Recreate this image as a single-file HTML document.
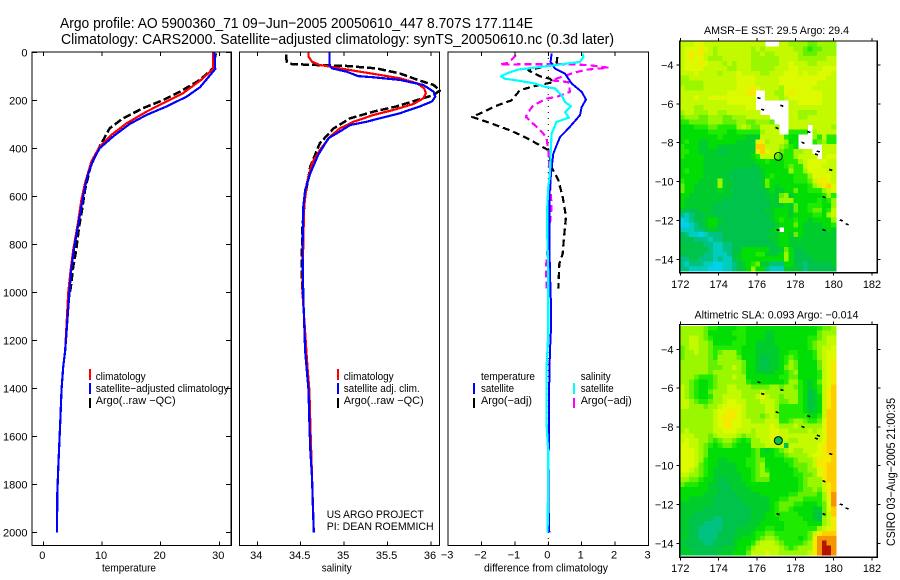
<!DOCTYPE html>
<html><head><meta charset="utf-8"><title>Argo profile</title>
<style>
html,body{margin:0;padding:0;background:#fff;width:900px;height:580px;overflow:hidden}
svg{display:block}
text{font-family:"Liberation Sans",sans-serif;font-size:11px;fill:#000}
.t{font-size:14.6px}
.crisp{shape-rendering:crispEdges}
</style></head><body>
<svg id="chart" xmlns="http://www.w3.org/2000/svg" width="900" height="580" viewBox="0 0 900 580">
<rect x="0" y="0" width="900" height="580" fill="#fff"/>
<text class="t" x="60" y="28" textLength="473" lengthAdjust="spacingAndGlyphs">Argo profile: AO 5900360_71 09−Jun−2005 20050610_447 8.707S 177.114E</text>
<text class="t" x="61" y="44" textLength="553" lengthAdjust="spacingAndGlyphs">Climatology: CARS2000. Satellite−adjusted climatology: synTS_20050610.nc (0.3d later)</text>
<text x="129" y="571.5" text-anchor="middle" textLength="54" lengthAdjust="spacingAndGlyphs">temperature</text>
<text x="336.7" y="571.5" text-anchor="middle" textLength="30" lengthAdjust="spacingAndGlyphs">salinity</text>
<text x="546" y="571.5" text-anchor="middle" textLength="124" lengthAdjust="spacingAndGlyphs">difference from climatology</text>
<g id="legends">
<text x="95.7" y="380" textLength="50" lengthAdjust="spacingAndGlyphs">climatology</text>
<text x="95.7" y="392" textLength="133" lengthAdjust="spacingAndGlyphs">satellite−adjusted climatology</text>
<text x="95.7" y="404" textLength="80" lengthAdjust="spacingAndGlyphs">Argo(..raw −QC)</text>
<text x="343.7" y="380" textLength="50" lengthAdjust="spacingAndGlyphs">climatology</text>
<text x="343.7" y="392" textLength="76" lengthAdjust="spacingAndGlyphs">satellite adj. clim.</text>
<text x="343.7" y="404" textLength="80" lengthAdjust="spacingAndGlyphs">Argo(..raw −QC)</text>
<text x="326.7" y="518" textLength="97" lengthAdjust="spacingAndGlyphs">US ARGO PROJECT</text>
<text x="326.7" y="530" textLength="107" lengthAdjust="spacingAndGlyphs">PI: DEAN ROEMMICH</text>
<text x="481" y="380" textLength="54" lengthAdjust="spacingAndGlyphs">temperature</text>
<text x="481" y="392" textLength="33" lengthAdjust="spacingAndGlyphs">satellite</text>
<text x="481" y="404" textLength="51" lengthAdjust="spacingAndGlyphs">Argo(−adj)</text>
<text x="580.7" y="380" textLength="30" lengthAdjust="spacingAndGlyphs">salinity</text>
<text x="580.7" y="392" textLength="33" lengthAdjust="spacingAndGlyphs">satellite</text>
<text x="580.7" y="404" textLength="51" lengthAdjust="spacingAndGlyphs">Argo(−adj)</text>
<rect class="crisp" x="89" y="369" width="2" height="11" fill="#f00"/>
<rect class="crisp" x="89" y="383" width="2" height="11" fill="#00f"/>
<rect class="crisp" x="89" y="398" width="2" height="10" fill="#000"/>
<rect class="crisp" x="337" y="369" width="2" height="11" fill="#f00"/>
<rect class="crisp" x="337" y="383" width="2" height="11" fill="#00f"/>
<rect class="crisp" x="337" y="398" width="2" height="10" fill="#000"/>
<rect class="crisp" x="473" y="383" width="2" height="11" fill="#00f"/>
<rect class="crisp" x="473" y="398" width="2" height="10" fill="#000"/>
<rect class="crisp" x="573" y="383" width="2" height="11" fill="#0ff"/>
<rect class="crisp" x="573" y="398" width="2" height="10" fill="#f0f"/>
</g>
<text x="776.5" y="34" text-anchor="middle" textLength="145" lengthAdjust="spacingAndGlyphs">AMSR−E SST: 29.5 Argo: 29.4</text>
<text x="776.5" y="318.5" text-anchor="middle" textLength="164" lengthAdjust="spacingAndGlyphs">Altimetric SLA: 0.093 Argo: −0.014</text>
<text transform="translate(895,546) rotate(-90)" textLength="148" lengthAdjust="spacingAndGlyphs" style="font-size:12px">CSIRO 03−Aug−2005 21:00:35</text>
</svg>
<script>
const tempTicks = [0, 10, 20, 30];
const salTicks = [34, 34.5, 35, 35.5, 36];
const salTickLabels = ["34", "34.5", "35", "35.5", "36"];
const diffTicks = [-3, -2, -1, 0, 1, 2, 3];
const depthTicks = [0, 200, 400, 600, 800, 1000, 1200, 1400, 1600, 1800, 2000];
const lonTicks = [172, 174, 176, 178, 180, 182];
const latTicks = [-4, -6, -8, -10, -12, -14];

const tempClimDepth = [0,70,115,171,205,247,296,344,393,455,546,615,712,824,921,1004,1242,1311,1408,1506,1631,1728,1839,2000];
const tempClimValue = [28.9,28.9,26.9,23.8,21,17.6,14.2,11.6,9.6,8.2,7.1,6.5,5.9,5.1,4.6,4.25,3.74,3.4,3.1,2.95,2.72,2.55,2.38,2.33];
const tempSatDepth = [0,70,146,185,226,261,299,351,400,455,518,600,712,824,921,1018,1242,1311,1408,1506,1631,1728,1839,2000];
const tempSatValue = [29.2,29.3,26.7,24.4,21,17.6,14.7,11.9,9.6,8.4,7.5,6.8,6,5.2,4.7,4.4,3.74,3.4,3.1,2.95,2.72,2.55,2.38,2.33];
const tempArgoDepth = [5,67,115,164,199,233,275,317,393,476,574,657,726,824,893,976,1018];
const tempArgoValue = [29.4,28.9,26.7,23.3,20.4,17,13.6,11.3,9.6,8.05,7.1,6.6,6.1,5.6,5.1,4.7,4.4];

const salClimDepth = [0,18,39,53,60,74,90,108,129,150,171,192,215,240,261,289,317,351,407,462,546,643,782,1004,1325,1408,1547,2000];
const salClimValue = [34.59,34.59,34.63,34.72,34.84,35.07,35.34,35.64,35.84,35.92,35.94,35.91,35.8,35.57,35.34,35.11,34.95,34.84,34.72,34.63,34.57,34.54,34.53,34.52,34.58,34.6,34.61,34.65];
const salSatDepth = [0,53,67,81,99,104,115,136,164,185,205,226,254,275,289,303,330,358,428,504,574,643,824,1018,1242,1325,1408,1547,1658,1769,1894,2000];
const salSatValue = [34.83,34.83,34.86,35.03,35.16,35.34,35.64,35.91,36.03,36.05,36.01,35.87,35.64,35.41,35.26,35.07,34.95,34.82,34.7,34.61,34.55,34.53,34.52,34.53,34.55,34.57,34.59,34.6,34.61,34.63,34.64,34.65];
const salArgoDepth = [10,18,39,49,53,57,67,88,118,136,160,178,199,226,247,275,317,379,476,601,726,893,1004];
const salArgoValue = [34.33,34.33,34.34,34.4,34.68,35.03,35.37,35.64,35.87,36.03,36.1,36.03,35.84,35.6,35.34,35.07,34.88,34.72,34.61,34.55,34.52,34.51,34.52];

const diffTempSatDepth = [5,40,68,89,130,165,197,228,262,318,353,422,505,603,783,922,1054,1151,1241,1352,1547,1850,2000];
const diffTempSatValue = [0.1,0.07,0.2,0.5,0.7,1,1.13,1,0.95,0.6,0.35,0.15,0.08,0.03,0.03,0.05,0.08,0.08,0.05,0.03,0.02,0,0.03];
const diffSalSatDepth = [5,19,40,47,58,64,72,86,100,110,119,130,142,151,179,207,225,249,272,290,339,422,505,561,644,769,922,1061,1172,1311,1547,1672,2000];
const diffSalSatValue = [1.03,1.05,0.95,0.55,-0.05,-0.45,-0.9,-1.2,-1.42,-1.3,-0.85,-0.4,-0.15,0.2,0.4,0.5,0.68,0.5,0.62,0.25,0.1,0.07,0.05,0,-0.03,-0.03,0,0,0,-0.05,-0.05,0,-0.02];
const diffTempArgoDepth = [19,47,75,100,110,124,142,158,200,225,249,269,294,325,350,380,408,478,533,603,686,769,839,881,985];
const diffTempArgoValue = [0.27,0.25,-0.6,-0.25,0.05,0.15,-0.45,-0.85,-1.1,-1.6,-1.95,-2.28,-1.75,-1.15,-0.75,-0.35,0,0.1,0.3,0.43,0.53,0.47,0.43,0.33,0.3];
const diffSalArgoDepth = [12,44,51,50,50,50,54,64,72,86,100,117,124,165,186,193,221,249,269,304,339,360,408,533,644,783,894,992];
const diffSalArgoValue = [-0.97,-1.2,-1.45,-0.75,0.05,0.75,1.25,1.8,1.15,0.75,0.45,0.1,0.6,0.65,0.25,-0.05,-0.45,-0.6,-0.67,-0.4,-0.15,-0.05,0,0.05,0.1,0,-0.07,-0.05];

const islandLon = [176.1,176.3,177.3,177.05,178.7,178.4,179.2,179.1,179.85,179.5,180.4,180.7,177.1,179.5];
const islandLat = [-5.7,-6.3,-6.1,-7.25,-7.45,-8.0,-8.45,-8.6,-9.4,-10.8,-12.0,-12.2,-12.5,-12.5];
const floatLon = [177.114];
const floatLat = [-8.707];

const sstLevels = [
[9,9,9,10,10,9,9,9,9,9,9,9,9,9,9,9,9,9,-1,-1,-1,9,9,8,8,8,8,7,7,8,8,8,8],
[9,10,10,10,11,10,9,8,9,9,9,9,9,9,9,8,9,8,9,9,9,9,9,9,8,8,7,6,7,7,8,8,8],
[9,10,11,10,11,9,9,8,9,9,9,9,9,9,9,8,8,9,8,8,9,9,9,9,9,8,7,7,7,8,8,8,8],
[9,10,11,10,10,9,8,8,8,9,9,9,9,9,9,8,8,8,8,8,8,9,9,9,9,8,8,8,8,8,8,9,9],
[9,10,10,10,11,10,9,9,9,8,9,8,9,9,9,8,8,8,8,8,8,9,9,10,9,9,9,8,8,9,9,9,9],
[9,10,10,10,10,9,9,9,9,9,8,8,9,9,9,8,8,8,8,8,9,9,9,10,10,9,9,9,9,9,10,10,10],
[9,9,9,10,9,9,9,9,8,9,9,9,10,9,9,9,9,8,8,9,9,9,10,10,10,9,10,9,9,10,10,10,9],
[8,8,9,9,9,9,9,9,9,9,9,9,10,10,10,10,9,9,9,9,9,10,10,10,10,10,10,10,10,10,10,9,9],
[8,8,8,8,8,9,9,9,9,9,9,9,10,10,10,10,9,9,9,9,9,10,10,10,10,10,10,10,10,9,9,9,9],
[9,8,8,8,8,9,9,9,9,9,9,9,10,10,10,11,10,9,9,9,9,8,10,10,10,10,10,10,9,9,9,9,9],
[9,9,9,9,9,9,9,9,9,9,10,10,10,10,11,11,-1,-1,9,9,8,8,10,11,10,10,10,10,10,10,9,9,9],
[9,9,9,10,9,9,10,10,10,10,10,10,10,10,10,10,-1,-1,9,9,9,8,9,10,10,10,10,10,10,10,9,9,9],
[9,9,9,9,9,9,9,9,9,9,10,10,10,10,10,10,-1,-1,-1,-1,-1,-1,-1,9,9,10,10,10,10,10,9,9,9],
[9,9,9,8,8,9,9,9,9,9,9,9,9,9,10,10,-1,-1,-1,-1,-1,-1,-1,9,9,9,9,9,9,9,9,9,9],
[8,9,9,8,8,8,9,9,8,8,9,9,9,9,9,9,9,-1,-1,-1,-1,-1,-1,9,9,8,8,8,8,9,9,9,9],
[7,8,8,8,7,7,8,8,8,7,7,8,8,8,9,9,9,9,9,-1,-1,-1,-1,9,9,8,8,9,9,9,9,9,9],
[6,6,7,7,7,7,8,8,8,7,7,7,8,8,7,7,8,8,8,7,-1,-1,-1,9,9,9,9,9,9,9,9,9,9],
[5,5,5,6,6,6,7,7,6,6,6,6,8,9,8,7,7,9,9,9,8,-1,-1,9,9,9,9,-1,9,9,9,9,8],
[5,5,5,5,5,5,6,6,6,6,5,5,6,6,6,6,6,8,9,9,9,-1,-1,6,6,6,6,-1,8,9,9,9,9],
[5,5,5,5,5,5,5,5,6,5,5,5,5,5,4,4,4,9,9,9,9,9,6,5,5,-1,-1,-1,8,6,9,6,6],
[5,6,5,5,4,4,5,5,5,5,5,5,4,4,4,4,10,11,8,9,9,9,8,5,5,-1,-1,-1,6,7,8,6,6],
[6,5,5,5,4,4,5,5,4,4,4,4,4,4,4,4,12,12,9,9,9,8,7,6,5,-1,-1,-1,-1,-1,9,9,9],
[6,6,5,5,4,4,4,4,3,3,4,4,4,4,4,4,11,12,10,9,9,7,6,6,8,8,9,9,-1,-1,9,9,9],
[6,5,5,5,5,4,4,4,4,4,4,4,4,4,4,5,6,9,9,9,7,6,6,6,8,9,9,9,9,-1,9,10,10],
[5,5,5,5,5,4,4,4,4,4,4,4,4,4,4,4,5,5,6,5,5,5,6,6,6,8,9,10,10,10,10,9,9],
[5,5,5,5,5,4,4,4,4,4,4,4,4,4,4,3,4,5,5,5,5,5,6,7,6,6,9,10,10,10,9,9,9],
[5,6,5,5,5,4,4,4,4,4,4,3,3,3,3,3,3,4,5,5,5,5,5,8,6,6,8,10,10,10,10,9,9],
[5,5,5,5,5,4,4,4,4,4,3,3,3,3,3,3,3,4,5,6,5,5,5,5,6,6,6,8,10,10,10,10,9],
[6,5,5,5,4,4,4,4,8,4,4,3,3,3,3,3,3,4,7,5,5,5,5,5,6,6,6,7,9,11,11,10,9],
[7,5,5,4,4,4,4,4,8,4,4,3,3,3,3,3,3,4,7,5,4,5,5,5,5,5,5,6,8,9,11,12,10],
[7,5,5,4,4,4,4,4,5,4,4,3,3,3,3,3,3,3,4,5,4,4,5,5,7,5,5,6,6,6,8,9,10],
[5,5,4,4,4,4,4,4,4,4,4,3,3,3,3,3,3,3,4,4,4,7,8,4,5,5,5,5,5,5,6,8,6],
[5,4,4,4,4,4,4,4,4,3,3,3,3,3,3,3,3,3,3,4,4,8,8,8,5,5,5,5,5,6,5,6,8],
[5,4,4,4,4,4,4,3,3,3,3,3,3,3,3,3,3,3,3,4,4,4,5,4,7,5,5,6,6,6,5,5,8],
[4,3,3,3,4,4,4,3,3,3,3,3,3,3,3,3,3,3,4,4,5,5,5,4,7,5,5,6,7,7,5,6,9],
[2,1,2,3,3,4,4,3,3,3,3,3,3,3,3,3,3,3,3,4,5,5,5,4,5,5,5,5,6,6,5,8,9],
[0,1,2,3,3,4,5,5,4,3,3,3,3,3,3,3,3,3,3,4,5,6,5,5,6,5,5,4,5,5,5,5,8],
[0,0,1,2,3,4,5,5,3,3,3,3,3,3,3,3,3,3,3,3,4,5,5,5,7,5,4,4,4,4,5,5,6],
[1,1,1,2,2,3,4,4,3,3,3,3,3,3,3,3,3,3,3,4,5,-1,5,5,5,5,4,4,4,4,4,5,4],
[3,2,1,1,0,1,2,2,2,3,3,3,3,3,3,3,3,3,3,4,4,5,5,4,7,5,4,4,4,4,4,4,4],
[3,3,3,2,2,2,1,2,2,3,3,3,3,3,3,3,3,3,3,4,4,5,5,4,4,4,4,4,4,4,4,4,4],
[3,3,3,3,3,2,2,1,1,2,2,3,3,3,3,3,3,3,3,3,4,5,5,4,4,4,4,4,4,4,4,4,4],
[4,3,3,3,3,3,2,1,1,2,2,3,3,5,5,5,5,5,5,3,3,4,7,5,3,3,4,4,4,4,4,4,4],
[3,3,3,3,3,2,2,1,1,1,2,3,4,5,5,5,6,6,4,4,4,5,8,5,3,3,3,4,4,4,4,4,4],
[2,2,3,3,2,2,2,1,2,1,1,3,4,5,5,5,5,5,5,5,5,5,8,5,3,3,3,3,4,4,4,4,4],
[2,1,2,2,2,1,1,0,0,1,1,2,3,4,5,6,7,4,4,2,2,2,5,5,3,3,2,3,3,3,3,3,4],
[2,2,1,1,1,1,0,0,0,1,1,2,3,4,5,8,5,5,2,1,1,1,4,4,4,3,2,3,3,3,3,3,3]
];

const slaLevels = [
[8,8,8,8,8,7,6,6,5,5,5,5,6,6,5,5,5,5,5,5,5,5,5,5,5,5,5,5,5,6,7,7,8],
[8,8,8,8,8,7,5,5,5,5,5,6,6,6,5,5,5,5,4,4,5,5,5,5,5,5,5,5,5,7,8,8,8],
[8,8,9,9,8,7,6,5,5,5,5,5,6,6,5,5,5,5,4,4,5,5,5,5,5,5,5,6,6,7,8,9,9],
[8,8,9,9,8,8,7,5,5,5,5,6,6,6,5,5,4,4,4,4,5,5,5,5,5,5,5,6,7,8,8,9,9],
[7,8,9,9,8,8,7,6,6,6,6,6,6,5,5,5,4,4,4,4,4,5,5,5,5,5,5,6,7,8,9,9,10],
[7,8,8,9,8,8,7,6,7,8,8,8,6,5,5,5,4,4,4,4,4,5,5,6,6,5,5,5,6,8,9,10,10],
[7,8,8,8,8,8,7,6,8,8,8,8,7,5,5,5,4,3,3,4,4,5,6,7,6,5,5,5,6,8,9,10,10],
[8,8,8,8,8,8,7,7,8,8,8,8,8,7,5,5,4,3,3,4,4,5,6,8,7,5,5,5,5,7,9,10,11],
[8,8,8,8,8,8,7,7,7,8,8,9,8,7,5,5,4,3,3,4,4,5,7,8,7,5,5,5,5,7,9,10,11],
[8,8,8,8,8,8,7,8,8,8,8,8,8,7,5,5,4,4,4,4,5,5,6,7,8,5,5,5,5,6,9,10,11],
[8,8,8,7,6,6,6,7,8,8,8,9,8,8,5,5,5,5,5,5,5,6,6,7,7,5,5,5,5,6,9,10,11],
[8,8,7,6,5,5,6,7,8,8,8,8,8,8,6,5,5,5,5,5,5,5,6,8,8,6,5,4,5,7,9,10,11],
[9,8,7,6,5,5,6,7,8,8,9,9,8,8,8,7,7,7,7,8,8,7,8,8,7,6,5,4,5,6,9,10,12],
[9,8,7,6,5,5,7,8,8,8,9,9,9,8,8,8,8,9,8,8,8,8,8,8,8,6,5,3,4,6,9,11,12],
[9,8,7,6,5,5,6,8,8,9,9,9,9,8,8,8,9,10,9,8,8,7,8,8,8,6,5,3,4,5,9,11,12],
[9,9,8,7,6,6,7,8,8,9,10,10,9,9,8,8,8,9,9,9,8,7,7,8,8,6,5,3,4,5,9,11,12],
[9,9,8,8,8,7,8,8,9,10,10,10,10,9,8,8,8,8,9,9,8,6,6,6,6,6,5,3,4,5,9,11,12],
[8,8,8,8,8,8,8,9,10,10,11,11,10,9,8,8,8,8,9,9,8,6,6,6,6,6,5,4,4,5,9,12,12],
[8,8,8,8,8,8,8,9,10,11,11,11,10,9,8,8,8,7,8,9,8,6,6,6,6,6,6,5,5,6,9,12,12],
[8,8,8,8,8,8,8,9,10,11,11,10,10,9,9,8,8,8,9,9,9,6,6,7,8,8,7,6,6,7,10,12,12],
[8,8,8,8,8,8,8,9,10,11,11,10,10,9,9,9,9,9,9,10,9,8,8,8,9,8,8,8,8,8,10,12,12],
[8,9,8,8,8,8,8,9,9,10,10,10,9,9,9,8,9,9,9,10,10,9,9,8,8,8,8,9,8,9,10,12,12],
[9,9,9,8,8,8,7,8,9,9,9,9,8,7,8,8,9,9,9,10,10,9,9,9,9,9,9,9,9,9,10,12,12],
[9,10,9,9,8,8,7,6,7,8,8,7,6,5,6,8,8,9,9,10,9,9,9,8,8,9,9,9,9,9,10,12,12],
[10,10,9,9,8,7,6,5,6,7,7,6,5,5,5,8,8,8,9,9,9,9,3,9,9,9,9,9,9,10,11,12,12],
[10,10,10,9,8,7,5,5,5,5,5,5,5,5,5,6,7,5,4,5,6,7,8,9,8,8,9,9,9,10,11,12,12],
[10,10,10,9,8,7,5,5,5,5,5,5,5,5,5,6,7,5,5,5,6,6,7,8,8,8,8,9,10,10,11,11,12],
[10,10,10,9,8,6,5,5,4,4,5,5,5,5,6,6,7,7,5,5,5,5,6,6,7,8,8,8,9,11,11,11,12],
[10,10,10,9,7,6,5,5,4,4,4,4,5,5,6,6,7,8,5,5,5,5,5,6,7,7,7,8,9,11,11,12,12],
[10,10,9,8,7,6,5,4,4,4,4,4,5,5,5,6,7,8,6,5,5,5,5,5,6,7,7,8,8,10,11,12,12],
[9,9,8,8,7,6,5,4,4,4,4,4,4,5,5,6,7,8,8,5,5,5,5,5,6,6,7,7,8,10,11,12,12],
[8,8,7,7,6,5,5,4,3,3,4,4,4,5,5,6,7,7,7,5,5,5,5,5,5,6,7,8,8,8,11,12,12],
[7,6,6,6,5,5,4,4,3,3,3,4,4,4,5,5,5,5,5,5,5,5,5,5,5,6,7,8,8,8,9,11,12],
[5,5,5,5,5,5,4,4,3,3,3,4,4,4,4,5,5,5,5,5,5,5,5,5,5,6,7,7,8,7,9,11,12],
[5,5,5,5,5,4,4,4,3,3,3,3,4,4,4,4,4,5,5,5,5,5,5,6,6,7,7,7,7,6,8,11,13],
[5,5,4,4,4,4,4,3,3,3,3,3,3,4,4,4,4,4,4,5,5,6,6,7,7,7,6,6,6,6,8,10,13],
[4,4,4,4,4,4,4,3,3,3,3,3,3,3,4,4,4,4,4,5,6,7,7,7,6,6,5,5,5,6,7,10,13],
[4,4,4,4,4,3,3,3,3,3,3,3,3,3,3,4,4,4,4,5,6,7,7,6,5,5,5,5,4,4,7,10,12],
[4,4,4,3,3,3,3,3,3,3,3,3,3,3,3,4,4,4,5,5,6,6,6,6,6,5,5,5,4,3,7,9,12],
[4,4,3,3,3,3,3,2,2,3,3,3,3,3,3,4,4,4,5,5,5,6,6,6,6,6,5,5,4,3,8,9,11],
[4,4,3,3,3,2,2,2,2,3,3,3,3,3,4,4,4,5,5,5,5,5,6,6,6,6,6,5,5,5,8,9,11],
[4,4,3,3,2,2,2,2,2,3,3,3,4,4,4,4,5,5,6,6,5,5,6,6,6,6,6,6,6,8,9,10,11],
[4,4,3,3,2,2,2,2,3,3,3,3,4,4,4,5,6,6,7,7,6,6,6,6,6,6,6,7,9,11,12,12,12],
[4,4,3,3,2,2,2,2,3,3,3,4,4,5,5,5,6,7,8,8,7,6,6,6,6,5,6,7,11,13,13,13,13],
[4,3,3,3,3,2,2,3,3,3,3,4,5,5,5,6,8,9,9,9,8,7,6,6,6,6,7,8,11,13,14,13,13],
[4,4,3,3,3,3,3,3,3,4,4,4,5,5,6,8,9,9,9,9,9,8,7,6,7,8,8,8,11,13,14,14,13],
[4,4,4,3,3,3,3,3,4,4,4,5,5,5,7,9,9,9,10,9,9,8,8,8,8,8,8,9,11,13,14,14,13]
];

const svg = document.getElementById('chart');
const NS = 'http://www.w3.org/2000/svg';
function make(tag, attrs, parent) {
  const n = document.createElementNS(NS, tag);
  for (const k in attrs) n.setAttribute(k, attrs[k]);
  (parent || svg).appendChild(n);
  return n;
}
const xTemp = v => 43.3 + v * 5.867;
const xSal = v => 257.3 + (v - 34) * 86.85;
const xDiff = v => 548.3 + v * 33.4;
const yDepth = d => 52.3 + d * 0.24;
const xLon = v => 680.3 + (v - 172) * 19.17;
const yLatTop = v => 65 + (-4 - v) * 19.43;
const yLatBottom = v => 349.3 + (-4 - v) * 19.4;

function group(name) {
  const g = make('g', {});
  
  
  return g;
}

function colorFor(level) {
  const scale = ['rgb(0,210,235)','rgb(0,205,190)','rgb(0,195,130)','rgb(0,195,75)','rgb(0,205,45)','rgb(0,222,5)','rgb(30,235,0)','rgb(100,240,0)','rgb(155,247,0)','rgb(195,250,0)','rgb(220,250,0)','rgb(245,235,0)','rgb(255,205,0)','rgb(245,150,0)','rgb(180,20,0)'];
  return scale[Math.max(0, Math.min(14, Math.round(level)))];
}

function drawSeries(parent, name, depths, values, xf, color, width, dash) {
  const pts = depths.map((d, i) => xf(values[i]).toFixed(1) + ',' + yDepth(d).toFixed(1)).join(' ');
  const attrs = {points: pts, fill: 'none', stroke: color, 'stroke-width': width, 'stroke-linejoin': 'round', class: 'crisp'};
  if (dash) attrs['stroke-dasharray'] = dash;
  const el = make('polyline', attrs, parent);
  
  
}

function tickLine(parent, x1, y1, x2, y2) {
  const el = make('line', {x1: x1, y1: y1, x2: x2, y2: y2, stroke: '#000', 'stroke-width': 1, class: 'crisp'}, parent);
  
  
}

function tickLabel(parent, x, y, anchor, str) {
  const el = make('text', {x: x, y: y, 'text-anchor': anchor}, parent);
  el.textContent = str;
  
  
}

function frame(parent, name, x, y, w, h) {
  const el = make('rect', {x: x, y: y, width: w, height: h, fill: 'none', stroke: '#000', 'stroke-width': 1.2, class: 'crisp'}, parent);
  
  
}

const T = 52, B = 545.5;

/* temperature panel */
const gTemp = group('temperature-panel');
drawSeries(gTemp, 'temperature-argo-line', tempArgoDepth, tempArgoValue, xTemp, '#000', 2.5, '8 3');
drawSeries(gTemp, 'temperature-climatology-line', tempClimDepth, tempClimValue, xTemp, '#f00', 2.2);
drawSeries(gTemp, 'temperature-satellite-line', tempSatDepth, tempSatValue, xTemp, '#00f', 2.2);
frame(gTemp, 'temperature-plot-frame', 32, T, 199.3, B - T);
tempTicks.forEach((v, i) => {
  tickLine(gTemp, xTemp(v), T, xTemp(v), T + 4);
  tickLine(gTemp, xTemp(v), B, xTemp(v), B - 4);
  tickLabel(gTemp, xTemp(v) - 1, 559, 'middle', String(v));
});
depthTicks.forEach(d => {
  tickLine(gTemp, 32, yDepth(d), 37, yDepth(d));
  tickLine(gTemp, 231.3, yDepth(d), 226, yDepth(d));
  tickLabel(gTemp, 27.5, yDepth(d) + 4, 'end', String(d));
});

/* salinity panel */
const gSal = group('salinity-panel');
drawSeries(gSal, 'salinity-argo-line', salArgoDepth, salArgoValue, xSal, '#000', 2.5, '8 3');
drawSeries(gSal, 'salinity-climatology-line', salClimDepth, salClimValue, xSal, '#f00', 2.2);
drawSeries(gSal, 'salinity-satellite-line', salSatDepth, salSatValue, xSal, '#00f', 2.2);
frame(gSal, 'salinity-plot-frame', 239.5, T, 200, B - T);
salTicks.forEach((v, i) => {
  tickLine(gSal, xSal(v), T, xSal(v), T + 4);
  tickLine(gSal, xSal(v), B, xSal(v), B - 4);
  tickLabel(gSal, xSal(v) - 1, 559, 'middle', salTickLabels[i]);
});

/* difference panel */
const gDiff = group('difference-panel');
const zero = make('line', {x1: xDiff(0), y1: T, x2: xDiff(0), y2: B, stroke: '#000', 'stroke-width': 1, 'stroke-dasharray': '1 5'}, gDiff);


drawSeries(gDiff, 'diff-temperature-argo-line', diffTempArgoDepth, diffTempArgoValue, xDiff, '#000', 2.2, '7 4');
drawSeries(gDiff, 'diff-salinity-argo-line', diffSalArgoDepth, diffSalArgoValue, xDiff, '#f0f', 2.2, '7 4');
drawSeries(gDiff, 'diff-temperature-satellite-line', diffTempSatDepth, diffTempSatValue, xDiff, '#00f', 2);
drawSeries(gDiff, 'diff-salinity-satellite-line', diffSalSatDepth, diffSalSatValue, xDiff, '#0ff', 2.2);
frame(gDiff, 'difference-plot-frame', 448, T, 200.5, B - T);
diffTicks.forEach(v => {
  tickLine(gDiff, xDiff(v), T, xDiff(v), T + 4);
  tickLine(gDiff, xDiff(v), B, xDiff(v), B - 4);
  tickLabel(gDiff, xDiff(v) - 1, 558.5, 'middle', (v < 0 ? '\u2212' + (-v) : String(v)));
});

/* maps */
const LAT_TOP = -2.79, LAT_STEP = 0.2517, LON_LEFT = 171.97, LON_STEP = 0.247;
function drawMap(name, levels, yLat, frameTop, frameBottom, labelY, fillCircle) {
  const g = group(name);
  levels.forEach((row, r) => {
    row.forEach((level, c) => {
      if (level < 0) return;
      const x0 = xLon(LON_LEFT + c * LON_STEP);
      const x1 = xLon(LON_LEFT + (c + 1) * LON_STEP);
      const y0 = yLat(LAT_TOP - r * LAT_STEP);
      const y1 = yLat(LAT_TOP - (r + 1) * LAT_STEP);
      const cell = make('rect', {x: x0.toFixed(2), y: y0.toFixed(2), width: (x1 - x0 + 0.3).toFixed(2), height: (y1 - y0 + 0.3).toFixed(2), fill: colorFor(level), class: 'crisp'}, g);
      
      
    });
  });
  islandLon.forEach((lon, i) => {
    const px = xLon(lon), py = yLat(islandLat[i]);
    const mark = make('line', {x1: px - 1.5, y1: py - 0.5, x2: px + 1.5, y2: py + 0.5, stroke: '#000', 'stroke-width': 1.6, class: 'crisp'}, g);
    
    
  });
  floatLon.forEach((lon, i) => {
    const circ = make('circle', {cx: xLon(lon), cy: yLat(floatLat[i]), r: 4, fill: fillCircle, stroke: '#000', 'stroke-width': 1}, g);
    
    
  });
  frame(g, name + '-frame', 679.7, frameTop, 197.6, frameBottom - frameTop);
  lonTicks.forEach(v => {
    tickLine(g, xLon(v), frameTop, xLon(v), frameTop - 3);
    tickLine(g, xLon(v), frameBottom, xLon(v), frameBottom + 3);
    tickLabel(g, xLon(v), labelY, 'middle', String(v));
  });
  latTicks.forEach(v => {
    tickLine(g, 679.7, yLat(v), 676.7, yLat(v));
    tickLine(g, 877.3, yLat(v), 880.3, yLat(v));
    tickLabel(g, 673.5, yLat(v) + 4, 'end', '\u2212' + (-v));
  });
}
drawMap('sst-map', sstLevels, yLatTop, 41, 272.7, 288, 'none');
drawMap('sla-map', slaLevels, yLatBottom, 324.5, 557.3, 572, 'rgb(0,195,80)');
</script>
</body></html>
